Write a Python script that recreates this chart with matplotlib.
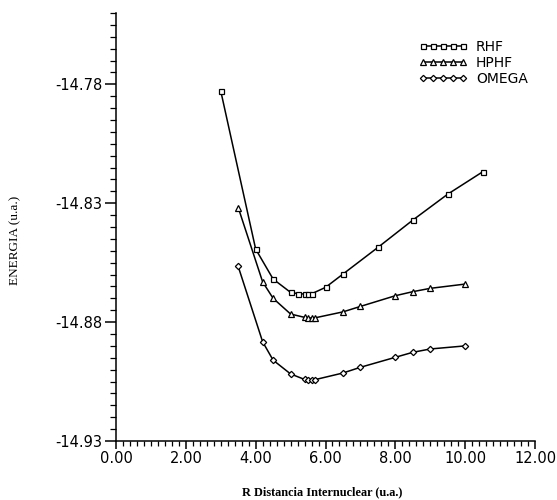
import matplotlib
matplotlib.use("Agg")
import matplotlib.pyplot as plt
from matplotlib.ticker import MultipleLocator, FormatStrFormatter

# Data
rhf_r = [3.0, 4.0, 4.5, 5.0, 5.2, 5.4, 5.5, 5.6, 6.0, 6.5, 7.5, 8.5, 9.5, 10.5]
rhf_e = [-14.7828, -14.8493, -14.8619, -14.8675, -14.8680, -14.8682, -14.8682,
         -14.8681, -14.8654, -14.8598, -14.8486, -14.8371, -14.8262, -14.8168]

hphf_r = [3.5, 4.2, 4.5, 5.0, 5.4, 5.5, 5.6, 5.7, 6.5, 7.0, 8.0, 8.5, 9.0, 10.0]
hphf_e = [-14.8318, -14.8631, -14.8700, -14.8766, -14.8780, -14.8782, -14.8783,
          -14.8782, -14.8757, -14.8734, -14.8689, -14.8672, -14.8658, -14.8640]

omega_r = [3.5, 4.2, 4.5, 5.0, 5.4, 5.5, 5.6, 5.7, 6.5, 7.0, 8.0, 8.5, 9.0, 10.0]
omega_e = [-14.8566, -14.8883, -14.8960, -14.9018, -14.9041, -14.9043, -14.9043,
           -14.9042, -14.9014, -14.8990, -14.8948, -14.8927, -14.8913, -14.8900]

labels = ["RHF", "HPHF", "OMEGA"]
markers = ["s", "^", "D"]

fig = plt.figure(figsize=(5.57, 5.0), dpi=100)
ax = fig.add_axes([116 / 557, 1 - 441 / 500, (535 - 116) / 557, (441 - 13) / 500])

series = [(rhf_r, rhf_e), (hphf_r, hphf_e), (omega_r, omega_e)]
msizes = [3.6, 4.0, 3.2]
for (r, e), lab, mk, ms in zip(series, labels, markers, msizes):
    ax.plot(r, e, color="black", lw=1.1, marker=mk, ms=ms, mfc="white",
            mec="black", mew=0.9, label=lab)

ax.set_xlim(0, 12)
ax.set_ylim(-14.93, -14.75)
ax.spines["top"].set_visible(False)
ax.spines["right"].set_visible(False)
for s in ("left", "bottom"):
    ax.spines[s].set_linewidth(1.1)

ax.xaxis.set_major_locator(MultipleLocator(2))
ax.xaxis.set_minor_locator(MultipleLocator(0.2))
ax.yaxis.set_major_locator(MultipleLocator(0.05, offset=0.02))
ax.yaxis.set_minor_locator(MultipleLocator(0.005))
ax.xaxis.set_major_formatter(FormatStrFormatter("%.2f"))
ax.yaxis.set_major_formatter(FormatStrFormatter("%.2f"))

ax.tick_params(axis="x", which="major", direction="out", length=6, width=1.1,
               labelsize=10.5, pad=1)
ax.tick_params(axis="x", which="minor", direction="out", length=3.5, width=0.9)
ax.tick_params(axis="y", which="major", direction="out", length=8, width=1.1,
               labelsize=10.5, pad=2)
ax.tick_params(axis="y", which="minor", direction="out", length=4, width=0.9)

fig.text(322 / 557, 1 - 492 / 500, "R Distancia Internuclear (u.a.)",
         ha="center", va="center", family="Liberation Serif",
         fontweight="bold", fontsize=8.8)
fig.text(15 / 557, 1 - 240 / 500, "ENERGIA (u.a.)", rotation=90,
         ha="center", va="center", family="Liberation Serif", fontsize=9.5)

ax.legend(loc="upper left", bbox_to_anchor=(419 / 557, 1 - 40 / 500),
          bbox_transform=fig.transFigure, frameon=False, numpoints=5,
          handlelength=3.5, handletextpad=0.6, labelspacing=0.15,
          borderpad=0, borderaxespad=0, fontsize=10)

fig.savefig("out.png", dpi=100)
